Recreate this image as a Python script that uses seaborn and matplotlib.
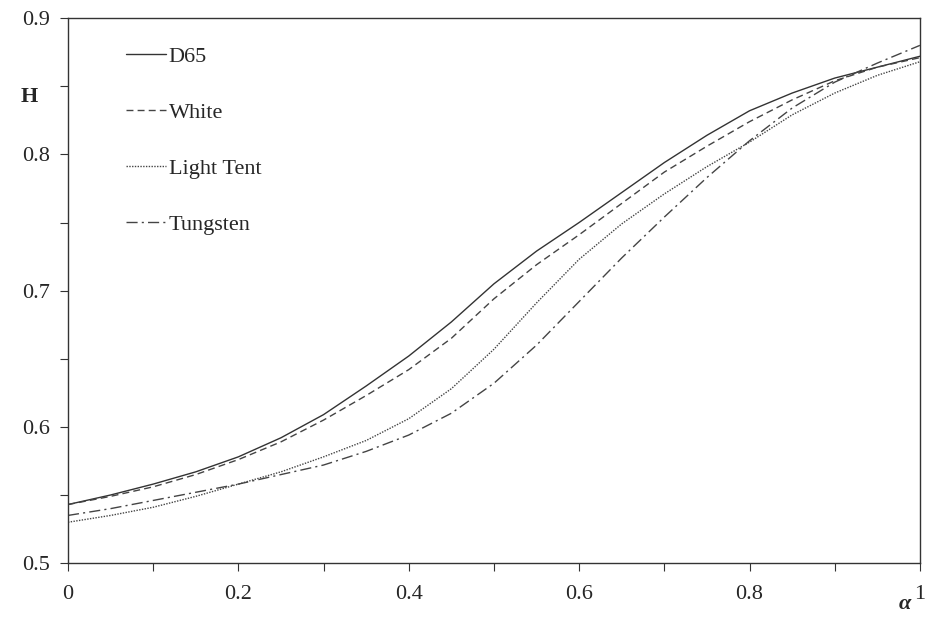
import numpy as np
import pandas as pd
import seaborn as sns
import matplotlib.pyplot as plt
from matplotlib.ticker import MultipleLocator, FuncFormatter

# values, alpha in steps of 0.05
alpha = [0.00, 0.05, 0.10, 0.15, 0.20, 0.25, 0.30, 0.35, 0.40, 0.45, 0.50,
         0.55, 0.60, 0.65, 0.70, 0.75, 0.80, 0.85, 0.90, 0.95, 1.00]
d65 = [0.543, 0.550, 0.558, 0.567, 0.578, 0.592, 0.609, 0.630, 0.652, 0.677, 0.705,
       0.729, 0.750, 0.772, 0.794, 0.814, 0.832, 0.845, 0.856, 0.864, 0.872]
white = [0.543, 0.549, 0.556, 0.565, 0.576, 0.589, 0.605, 0.623, 0.642, 0.665, 0.694,
         0.719, 0.741, 0.764, 0.787, 0.806, 0.824, 0.840, 0.854, 0.864, 0.871]
light_tent = [0.530, 0.535, 0.541, 0.549, 0.558, 0.567, 0.578, 0.590, 0.606, 0.628, 0.657,
              0.691, 0.723, 0.749, 0.771, 0.791, 0.809, 0.829, 0.845, 0.858, 0.868]
tungsten = [0.535, 0.540, 0.546, 0.552, 0.558, 0.565, 0.572, 0.582, 0.594, 0.610, 0.632,
            0.660, 0.692, 0.724, 0.754, 0.783, 0.810, 0.834, 0.853, 0.867, 0.880]

names = ["D65", "White", "Light Tent", "Tungsten"]

df = pd.DataFrame({
    "alpha": alpha * 4,
    "H": d65 + white + light_tent + tungsten,
    "Illuminant": [n for n in names for _ in alpha],
})

sns.set_style("ticks")
plt.rcParams["font.family"] = ["Liberation Serif", "DejaVu Serif"]

fig = plt.figure(figsize=(9.25, 6.25), dpi=100)
ax = fig.add_axes([0.0735, 0.099, 0.921, 0.872])

dashes = {
    "D65": "",
    "White": (5, 3),
    "Light Tent": (1, 1),
    "Tungsten": (8, 3, 1.5, 3),
}
colors = {"D65": "#333333", "White": "#444444", "Light Tent": "#444444", "Tungsten": "#444444"}

sns.lineplot(data=df, x="alpha", y="H", hue="Illuminant", style="Illuminant",
             dashes=dashes, palette=colors, linewidth=1.0, ax=ax)

ax.set_xlim(0, 1)
ax.set_ylim(0.5, 0.9)
ax.xaxis.set_major_locator(MultipleLocator(0.2))
ax.xaxis.set_minor_locator(MultipleLocator(0.1))
ax.yaxis.set_major_locator(MultipleLocator(0.1))
ax.yaxis.set_minor_locator(MultipleLocator(0.05))
fmt = FuncFormatter(lambda v, p: "%g" % round(v, 2))
ax.xaxis.set_major_formatter(fmt)
ax.yaxis.set_major_formatter(fmt)
ax.tick_params(which="both", direction="out", length=6, width=0.8, color="#333333",
               labelsize=16, pad=7)
ax.tick_params(axis="x", pad=10)
for s in ax.spines.values():
    s.set_color("#333333")
    s.set_linewidth(1.0)

ax.set_xlabel("")
ax.set_ylabel("")
fig.text(0.022, 0.845, "H", fontsize=16, fontweight="bold", ha="left", va="center")
fig.text(0.978, 0.033, "α", fontsize=16, fontweight="bold", fontstyle="italic",
         ha="center", va="center")

leg = ax.legend(loc="upper left", bbox_to_anchor=(0.045, 0.985), frameon=False,
                fontsize=16, handlelength=1.8, handletextpad=0.1, labelspacing=1.6,
                title=None)

fig.savefig("out.png", dpi=100)
